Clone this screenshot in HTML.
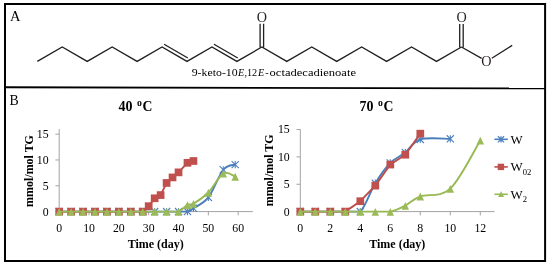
<!DOCTYPE html>
<html><head><meta charset="utf-8"><style>html,body{margin:0;padding:0;background:#fff;width:550px;height:267px;overflow:hidden}svg{display:block;will-change:transform}</style></head><body>
<svg width="550" height="267" viewBox="0 0 550 267">
<rect width="550" height="267" fill="#fff"/>
<rect x="5" y="4" width="540.1" height="257" fill="none" stroke="#000" stroke-width="2"/>
<line x1="5" y1="87.25" x2="545" y2="88.45" stroke="#000" stroke-width="1.8"/>
<text x="0" y="0" transform="translate(10,20.6) scale(0.93,1)" font-family='"Liberation Serif", serif' font-size="15.6" fill="#000">A</text>
<text x="0" y="0" transform="translate(9.6,104.8) scale(0.9,1)" font-family='"Liberation Serif", serif' font-size="15.3" fill="#000">B</text>
<path d="M37.30,61.40 L62.25,47.00 L87.20,61.40 L112.15,47.00 L137.10,61.40 L162.05,47.00 L187.00,61.40 L211.95,47.00 L236.90,61.40 L261.85,47.00 L286.80,61.40 L311.75,47.00 L336.70,61.40 L361.65,47.00 L386.60,61.40 L411.55,47.00 L436.50,61.40 L461.45,47.00 M461.45,47.00 L481.6,58.4 M491.8,58.3 L512.2,45.4 M164.10,44.26 L187.83,57.96 M214.00,44.26 L237.73,57.96 M260.10,47.20 L260.10,23.8 M263.60,47.20 L263.60,23.8 M459.70,47.20 L459.70,23.9 M463.20,47.20 L463.20,23.9" stroke="#231f20" stroke-width="1.3" fill="none" stroke-linejoin="miter"/>
<text x="261.90" y="22.10" font-family='"Liberation Serif", serif' font-size="14.2" text-anchor="middle" fill="#231f20">O</text>
<text x="461.60" y="22.20" font-family='"Liberation Serif", serif' font-size="14.2" text-anchor="middle" fill="#231f20">O</text>
<text x="486.40" y="65.70" font-family='"Liberation Serif", serif' font-size="14.2" text-anchor="middle" fill="#231f20">O</text>
<text x="191.70" y="76.1" font-family='"Liberation Serif", serif' font-size="10.2" fill="#000" textLength="46.00" lengthAdjust="spacingAndGlyphs">9-keto-10</text>
<text x="238.00" y="76.1" font-family='"Liberation Serif", serif' font-size="10.2" fill="#000" font-style="italic">E</text>
<text x="244.40" y="76.1" font-family='"Liberation Serif", serif' font-size="10.2" fill="#000">,12</text>
<text x="257.90" y="76.1" font-family='"Liberation Serif", serif' font-size="10.2" fill="#000" font-style="italic">E</text>
<text x="265.20" y="76.1" font-family='"Liberation Serif", serif' font-size="10.2" fill="#000">-</text>
<text x="269.60" y="76.1" font-family='"Liberation Serif", serif' font-size="10.2" fill="#000" textLength="86.40" lengthAdjust="spacingAndGlyphs">octadecadienoate</text>
<line x1="59.20" y1="129.10" x2="59.20" y2="211.60" stroke="#A3A3A3" stroke-width="1"/>
<line x1="59.20" y1="211.60" x2="252.90" y2="211.60" stroke="#A3A3A3" stroke-width="1"/>
<line x1="55.40" y1="211.60" x2="59.20" y2="211.60" stroke="#A3A3A3" stroke-width="1"/>
<text x="48.60" y="215.50" font-family='"Liberation Serif", serif' font-size="11.8" text-anchor="end" fill="#000">0</text>
<line x1="55.40" y1="185.78" x2="59.20" y2="185.78" stroke="#A3A3A3" stroke-width="1"/>
<text x="48.60" y="189.69" font-family='"Liberation Serif", serif' font-size="11.8" text-anchor="end" fill="#000">5</text>
<line x1="55.40" y1="159.97" x2="59.20" y2="159.97" stroke="#A3A3A3" stroke-width="1"/>
<text x="48.60" y="163.87" font-family='"Liberation Serif", serif' font-size="11.8" text-anchor="end" fill="#000">10</text>
<line x1="55.40" y1="134.15" x2="59.20" y2="134.15" stroke="#A3A3A3" stroke-width="1"/>
<text x="48.60" y="138.05" font-family='"Liberation Serif", serif' font-size="11.8" text-anchor="end" fill="#000">15</text>
<line x1="59.20" y1="211.60" x2="59.20" y2="215.40" stroke="#A3A3A3" stroke-width="1"/>
<line x1="89.03" y1="211.60" x2="89.03" y2="215.40" stroke="#A3A3A3" stroke-width="1"/>
<line x1="118.86" y1="211.60" x2="118.86" y2="215.40" stroke="#A3A3A3" stroke-width="1"/>
<line x1="148.69" y1="211.60" x2="148.69" y2="215.40" stroke="#A3A3A3" stroke-width="1"/>
<line x1="178.52" y1="211.60" x2="178.52" y2="215.40" stroke="#A3A3A3" stroke-width="1"/>
<line x1="208.35" y1="211.60" x2="208.35" y2="215.40" stroke="#A3A3A3" stroke-width="1"/>
<line x1="238.18" y1="211.60" x2="238.18" y2="215.40" stroke="#A3A3A3" stroke-width="1"/>
<text x="59.20" y="231.8" font-family='"Liberation Serif", serif' font-size="11.8" text-anchor="middle" fill="#000">0</text>
<text x="89.03" y="231.8" font-family='"Liberation Serif", serif' font-size="11.8" text-anchor="middle" fill="#000">10</text>
<text x="118.86" y="231.8" font-family='"Liberation Serif", serif' font-size="11.8" text-anchor="middle" fill="#000">20</text>
<text x="148.69" y="231.8" font-family='"Liberation Serif", serif' font-size="11.8" text-anchor="middle" fill="#000">30</text>
<text x="178.52" y="231.8" font-family='"Liberation Serif", serif' font-size="11.8" text-anchor="middle" fill="#000">40</text>
<text x="208.35" y="231.8" font-family='"Liberation Serif", serif' font-size="11.8" text-anchor="middle" fill="#000">50</text>
<text x="238.18" y="231.8" font-family='"Liberation Serif", serif' font-size="11.8" text-anchor="middle" fill="#000">60</text>
<path d="M59.20,211.60 L71.13,211.60 L83.06,211.60 L95.00,211.60 L106.93,211.60 L118.86,211.60 L130.79,211.60 L142.72,211.60 L154.66,211.60 L166.59,211.60 L178.52,211.60 L187.47,211.60 C189.95,211.04 189.95,210.61 193.44,208.24 C196.92,205.88 203.38,203.81 208.35,197.40 C213.32,190.99 218.79,175.24 223.26,169.78 C227.74,164.32 233.21,165.48 235.20,164.62" stroke="#4A7EBB" stroke-width="1.9" fill="none" stroke-linejoin="round"/>
<path d="M55.60,208.00 L62.80,215.20 M55.60,215.20 L62.80,208.00 M59.20,208.00 L59.20,215.20" stroke="#4F81BD" stroke-width="1.10" fill="none"/>
<path d="M67.53,208.00 L74.73,215.20 M67.53,215.20 L74.73,208.00 M71.13,208.00 L71.13,215.20" stroke="#4F81BD" stroke-width="1.10" fill="none"/>
<path d="M79.46,208.00 L86.66,215.20 M79.46,215.20 L86.66,208.00 M83.06,208.00 L83.06,215.20" stroke="#4F81BD" stroke-width="1.10" fill="none"/>
<path d="M91.40,208.00 L98.60,215.20 M91.40,215.20 L98.60,208.00 M95.00,208.00 L95.00,215.20" stroke="#4F81BD" stroke-width="1.10" fill="none"/>
<path d="M103.33,208.00 L110.53,215.20 M103.33,215.20 L110.53,208.00 M106.93,208.00 L106.93,215.20" stroke="#4F81BD" stroke-width="1.10" fill="none"/>
<path d="M115.26,208.00 L122.46,215.20 M115.26,215.20 L122.46,208.00 M118.86,208.00 L118.86,215.20" stroke="#4F81BD" stroke-width="1.10" fill="none"/>
<path d="M127.19,208.00 L134.39,215.20 M127.19,215.20 L134.39,208.00 M130.79,208.00 L130.79,215.20" stroke="#4F81BD" stroke-width="1.10" fill="none"/>
<path d="M139.12,208.00 L146.32,215.20 M139.12,215.20 L146.32,208.00 M142.72,208.00 L142.72,215.20" stroke="#4F81BD" stroke-width="1.10" fill="none"/>
<path d="M151.06,208.00 L158.26,215.20 M151.06,215.20 L158.26,208.00 M154.66,208.00 L154.66,215.20" stroke="#4F81BD" stroke-width="1.10" fill="none"/>
<path d="M162.99,208.00 L170.19,215.20 M162.99,215.20 L170.19,208.00 M166.59,208.00 L166.59,215.20" stroke="#4F81BD" stroke-width="1.10" fill="none"/>
<path d="M174.92,208.00 L182.12,215.20 M174.92,215.20 L182.12,208.00 M178.52,208.00 L178.52,215.20" stroke="#4F81BD" stroke-width="1.10" fill="none"/>
<path d="M183.87,208.00 L191.07,215.20 M183.87,215.20 L191.07,208.00 M187.47,208.00 L187.47,215.20" stroke="#4F81BD" stroke-width="1.10" fill="none"/>
<path d="M189.84,204.64 L197.03,211.84 M189.84,211.84 L197.03,204.64 M193.44,204.64 L193.44,211.84" stroke="#4F81BD" stroke-width="1.10" fill="none"/>
<path d="M204.75,193.80 L211.95,201.00 M204.75,201.00 L211.95,193.80 M208.35,193.80 L208.35,201.00" stroke="#4F81BD" stroke-width="1.10" fill="none"/>
<path d="M219.66,166.18 L226.86,173.38 M219.66,173.38 L226.86,166.18 M223.26,166.18 L223.26,173.38" stroke="#4F81BD" stroke-width="1.10" fill="none"/>
<path d="M231.60,161.02 L238.80,168.22 M231.60,168.22 L238.80,161.02 M235.20,161.02 L235.20,168.22" stroke="#4F81BD" stroke-width="1.10" fill="none"/>
<path d="M59.20,211.60 L71.13,211.60 L83.06,211.60 L95.00,211.60 L106.93,211.60 L118.86,211.60 L130.79,211.60 L142.72,211.60 L148.69,206.18 L154.66,198.28 L160.62,195.08 L166.59,182.95 L172.55,177.42 L178.52,172.36 L187.47,162.81 L193.44,161.00" stroke="#BE4B48" stroke-width="1.9" fill="none" stroke-linejoin="round"/>
<rect x="55.35" y="207.75" width="7.70" height="7.70" fill="#C0504D"/>
<rect x="67.28" y="207.75" width="7.70" height="7.70" fill="#C0504D"/>
<rect x="79.21" y="207.75" width="7.70" height="7.70" fill="#C0504D"/>
<rect x="91.15" y="207.75" width="7.70" height="7.70" fill="#C0504D"/>
<rect x="103.08" y="207.75" width="7.70" height="7.70" fill="#C0504D"/>
<rect x="115.01" y="207.75" width="7.70" height="7.70" fill="#C0504D"/>
<rect x="126.94" y="207.75" width="7.70" height="7.70" fill="#C0504D"/>
<rect x="138.87" y="207.75" width="7.70" height="7.70" fill="#C0504D"/>
<rect x="144.84" y="202.33" width="7.70" height="7.70" fill="#C0504D"/>
<rect x="150.81" y="194.43" width="7.70" height="7.70" fill="#C0504D"/>
<rect x="156.77" y="191.23" width="7.70" height="7.70" fill="#C0504D"/>
<rect x="162.74" y="179.10" width="7.70" height="7.70" fill="#C0504D"/>
<rect x="168.70" y="173.57" width="7.70" height="7.70" fill="#C0504D"/>
<rect x="174.67" y="168.51" width="7.70" height="7.70" fill="#C0504D"/>
<rect x="183.62" y="158.96" width="7.70" height="7.70" fill="#C0504D"/>
<rect x="189.59" y="157.15" width="7.70" height="7.70" fill="#C0504D"/>
<path d="M59.20,211.60 L71.13,211.60 L83.06,211.60 L95.00,211.60 L106.93,211.60 L118.86,211.60 L130.79,211.60 L142.72,211.60 L154.66,211.60 L166.59,211.60 L178.52,211.60 C182.00,210.48 184.98,206.22 187.47,204.89 C189.95,203.55 189.95,205.66 193.44,203.60 C196.92,201.53 203.38,197.53 208.35,192.50 C213.32,187.46 218.79,176.06 223.26,173.39 C227.74,170.73 233.21,175.98 235.20,176.49" stroke="#98B954" stroke-width="1.9" fill="none" stroke-linejoin="round"/>
<path d="M59.20,207.93 L62.95,215.73 L55.45,215.73 Z" fill="#9BBB59"/>
<path d="M71.13,207.93 L74.88,215.73 L67.38,215.73 Z" fill="#9BBB59"/>
<path d="M83.06,207.93 L86.81,215.73 L79.31,215.73 Z" fill="#9BBB59"/>
<path d="M95.00,207.93 L98.75,215.73 L91.25,215.73 Z" fill="#9BBB59"/>
<path d="M106.93,207.93 L110.68,215.73 L103.18,215.73 Z" fill="#9BBB59"/>
<path d="M118.86,207.93 L122.61,215.73 L115.11,215.73 Z" fill="#9BBB59"/>
<path d="M130.79,207.93 L134.54,215.73 L127.04,215.73 Z" fill="#9BBB59"/>
<path d="M142.72,207.93 L146.47,215.73 L138.97,215.73 Z" fill="#9BBB59"/>
<path d="M154.66,207.93 L158.41,215.73 L150.91,215.73 Z" fill="#9BBB59"/>
<path d="M166.59,207.93 L170.34,215.73 L162.84,215.73 Z" fill="#9BBB59"/>
<path d="M178.52,207.93 L182.27,215.73 L174.77,215.73 Z" fill="#9BBB59"/>
<path d="M187.47,201.22 L191.22,209.02 L183.72,209.02 Z" fill="#9BBB59"/>
<path d="M193.44,199.93 L197.19,207.73 L189.69,207.73 Z" fill="#9BBB59"/>
<path d="M208.35,188.83 L212.10,196.63 L204.60,196.63 Z" fill="#9BBB59"/>
<path d="M223.26,169.73 L227.01,177.53 L219.51,177.53 Z" fill="#9BBB59"/>
<path d="M235.20,172.83 L238.95,180.63 L231.45,180.63 Z" fill="#9BBB59"/>
<text x="125.60" y="110.8" font-family='"Liberation Serif", serif' font-size="15.5" font-weight="bold" text-anchor="middle" fill="#000" textLength="14" lengthAdjust="spacingAndGlyphs">40</text>
<text x="139.40" y="106.1" font-family='"Liberation Serif", serif' font-size="9.8" font-weight="bold" text-anchor="middle" fill="#000">o</text>
<text x="142.60" y="110.8" font-family='"Liberation Serif", serif' font-size="15.5" font-weight="bold" fill="#000" textLength="9.9" lengthAdjust="spacingAndGlyphs">C</text>
<line x1="300.30" y1="129.30" x2="300.30" y2="211.60" stroke="#A3A3A3" stroke-width="1"/>
<line x1="300.30" y1="211.60" x2="494.50" y2="211.60" stroke="#A3A3A3" stroke-width="1"/>
<line x1="296.50" y1="211.60" x2="300.30" y2="211.60" stroke="#A3A3A3" stroke-width="1"/>
<text x="289.70" y="215.50" font-family='"Liberation Serif", serif' font-size="11.8" text-anchor="end" fill="#000">0</text>
<line x1="296.50" y1="184.25" x2="300.30" y2="184.25" stroke="#A3A3A3" stroke-width="1"/>
<text x="289.70" y="188.15" font-family='"Liberation Serif", serif' font-size="11.8" text-anchor="end" fill="#000">5</text>
<line x1="296.50" y1="156.90" x2="300.30" y2="156.90" stroke="#A3A3A3" stroke-width="1"/>
<text x="289.70" y="160.80" font-family='"Liberation Serif", serif' font-size="11.8" text-anchor="end" fill="#000">10</text>
<line x1="296.50" y1="129.55" x2="300.30" y2="129.55" stroke="#A3A3A3" stroke-width="1"/>
<text x="289.70" y="133.45" font-family='"Liberation Serif", serif' font-size="11.8" text-anchor="end" fill="#000">15</text>
<line x1="300.30" y1="211.60" x2="300.30" y2="215.40" stroke="#A3A3A3" stroke-width="1"/>
<line x1="330.30" y1="211.60" x2="330.30" y2="215.40" stroke="#A3A3A3" stroke-width="1"/>
<line x1="360.30" y1="211.60" x2="360.30" y2="215.40" stroke="#A3A3A3" stroke-width="1"/>
<line x1="390.30" y1="211.60" x2="390.30" y2="215.40" stroke="#A3A3A3" stroke-width="1"/>
<line x1="420.30" y1="211.60" x2="420.30" y2="215.40" stroke="#A3A3A3" stroke-width="1"/>
<line x1="450.30" y1="211.60" x2="450.30" y2="215.40" stroke="#A3A3A3" stroke-width="1"/>
<line x1="480.30" y1="211.60" x2="480.30" y2="215.40" stroke="#A3A3A3" stroke-width="1"/>
<text x="300.30" y="231.8" font-family='"Liberation Serif", serif' font-size="11.8" text-anchor="middle" fill="#000">0</text>
<text x="330.30" y="231.8" font-family='"Liberation Serif", serif' font-size="11.8" text-anchor="middle" fill="#000">2</text>
<text x="360.30" y="231.8" font-family='"Liberation Serif", serif' font-size="11.8" text-anchor="middle" fill="#000">4</text>
<text x="390.30" y="231.8" font-family='"Liberation Serif", serif' font-size="11.8" text-anchor="middle" fill="#000">6</text>
<text x="420.30" y="231.8" font-family='"Liberation Serif", serif' font-size="11.8" text-anchor="middle" fill="#000">8</text>
<text x="450.30" y="231.8" font-family='"Liberation Serif", serif' font-size="11.8" text-anchor="middle" fill="#000">10</text>
<text x="480.30" y="231.8" font-family='"Liberation Serif", serif' font-size="11.8" text-anchor="middle" fill="#000">12</text>
<path d="M300.30,211.60 L315.30,211.60 L330.30,211.60 L345.30,211.60 L360.30,211.60 C365.30,206.86 370.30,191.27 375.30,183.16 C380.30,175.04 385.30,168.02 390.30,162.92 C395.30,157.81 400.30,156.44 405.30,152.52 C410.30,148.60 412.80,141.68 420.30,139.40 C427.80,137.12 445.30,138.94 450.30,138.85" stroke="#4A7EBB" stroke-width="1.9" fill="none" stroke-linejoin="round"/>
<path d="M296.70,208.00 L303.90,215.20 M296.70,215.20 L303.90,208.00 M300.30,208.00 L300.30,215.20" stroke="#4F81BD" stroke-width="1.10" fill="none"/>
<path d="M311.70,208.00 L318.90,215.20 M311.70,215.20 L318.90,208.00 M315.30,208.00 L315.30,215.20" stroke="#4F81BD" stroke-width="1.10" fill="none"/>
<path d="M326.70,208.00 L333.90,215.20 M326.70,215.20 L333.90,208.00 M330.30,208.00 L330.30,215.20" stroke="#4F81BD" stroke-width="1.10" fill="none"/>
<path d="M341.70,208.00 L348.90,215.20 M341.70,215.20 L348.90,208.00 M345.30,208.00 L345.30,215.20" stroke="#4F81BD" stroke-width="1.10" fill="none"/>
<path d="M356.70,208.00 L363.90,215.20 M356.70,215.20 L363.90,208.00 M360.30,208.00 L360.30,215.20" stroke="#4F81BD" stroke-width="1.10" fill="none"/>
<path d="M371.70,179.56 L378.90,186.76 M371.70,186.76 L378.90,179.56 M375.30,179.56 L375.30,186.76" stroke="#4F81BD" stroke-width="1.10" fill="none"/>
<path d="M386.70,159.32 L393.90,166.52 M386.70,166.52 L393.90,159.32 M390.30,159.32 L390.30,166.52" stroke="#4F81BD" stroke-width="1.10" fill="none"/>
<path d="M401.70,148.92 L408.90,156.12 M401.70,156.12 L408.90,148.92 M405.30,148.92 L405.30,156.12" stroke="#4F81BD" stroke-width="1.10" fill="none"/>
<path d="M416.70,135.80 L423.90,143.00 M416.70,143.00 L423.90,135.80 M420.30,135.80 L420.30,143.00" stroke="#4F81BD" stroke-width="1.10" fill="none"/>
<path d="M446.70,135.25 L453.90,142.45 M446.70,142.45 L453.90,135.25 M450.30,135.25 L450.30,142.45" stroke="#4F81BD" stroke-width="1.10" fill="none"/>
<path d="M300.30,211.60 L315.30,211.60 L330.30,211.60 L345.30,211.60 L360.30,201.21 L375.30,185.62 L390.30,164.56 L405.30,154.71 L420.30,133.65" stroke="#BE4B48" stroke-width="1.9" fill="none" stroke-linejoin="round"/>
<rect x="296.45" y="207.75" width="7.70" height="7.70" fill="#C0504D"/>
<rect x="311.45" y="207.75" width="7.70" height="7.70" fill="#C0504D"/>
<rect x="326.45" y="207.75" width="7.70" height="7.70" fill="#C0504D"/>
<rect x="341.45" y="207.75" width="7.70" height="7.70" fill="#C0504D"/>
<rect x="356.45" y="197.36" width="7.70" height="7.70" fill="#C0504D"/>
<rect x="371.45" y="181.77" width="7.70" height="7.70" fill="#C0504D"/>
<rect x="386.45" y="160.71" width="7.70" height="7.70" fill="#C0504D"/>
<rect x="401.45" y="150.86" width="7.70" height="7.70" fill="#C0504D"/>
<rect x="416.45" y="129.80" width="7.70" height="7.70" fill="#C0504D"/>
<path d="M300.30,211.60 L315.30,211.60 L330.30,211.60 L345.30,211.60 L360.30,211.60 L375.30,211.60 L390.30,211.60 C395.30,210.60 400.30,208.14 405.30,205.58 C410.30,203.03 412.80,199.11 420.30,196.28 C427.80,193.46 440.30,197.93 450.30,188.63 C460.30,179.33 475.30,148.51 480.30,140.49" stroke="#98B954" stroke-width="1.9" fill="none" stroke-linejoin="round"/>
<path d="M300.30,207.93 L304.05,215.73 L296.55,215.73 Z" fill="#9BBB59"/>
<path d="M315.30,207.93 L319.05,215.73 L311.55,215.73 Z" fill="#9BBB59"/>
<path d="M330.30,207.93 L334.05,215.73 L326.55,215.73 Z" fill="#9BBB59"/>
<path d="M345.30,207.93 L349.05,215.73 L341.55,215.73 Z" fill="#9BBB59"/>
<path d="M360.30,207.93 L364.05,215.73 L356.55,215.73 Z" fill="#9BBB59"/>
<path d="M375.30,207.93 L379.05,215.73 L371.55,215.73 Z" fill="#9BBB59"/>
<path d="M390.30,207.93 L394.05,215.73 L386.55,215.73 Z" fill="#9BBB59"/>
<path d="M405.30,201.92 L409.05,209.72 L401.55,209.72 Z" fill="#9BBB59"/>
<path d="M420.30,192.62 L424.05,200.42 L416.55,200.42 Z" fill="#9BBB59"/>
<path d="M450.30,184.96 L454.05,192.76 L446.55,192.76 Z" fill="#9BBB59"/>
<path d="M480.30,136.82 L484.05,144.62 L476.55,144.62 Z" fill="#9BBB59"/>
<text x="366.60" y="110.8" font-family='"Liberation Serif", serif' font-size="15.5" font-weight="bold" text-anchor="middle" fill="#000" textLength="14" lengthAdjust="spacingAndGlyphs">70</text>
<text x="380.40" y="106.1" font-family='"Liberation Serif", serif' font-size="9.8" font-weight="bold" text-anchor="middle" fill="#000">o</text>
<text x="383.60" y="110.8" font-family='"Liberation Serif", serif' font-size="15.5" font-weight="bold" fill="#000" textLength="9.9" lengthAdjust="spacingAndGlyphs">C</text>
<text x="155.70" y="248.2" font-family='"Liberation Serif", serif' font-size="12" font-weight="bold" text-anchor="middle" fill="#000">Time (day)</text>
<text x="397.30" y="248.2" font-family='"Liberation Serif", serif' font-size="12" font-weight="bold" text-anchor="middle" fill="#000">Time (day)</text>
<text transform="translate(32.50,171.00) rotate(-90)" x="0" y="0" font-family='"Liberation Serif", serif' font-size="12.8" font-weight="bold" text-anchor="middle" fill="#000" textLength="71.8" lengthAdjust="spacingAndGlyphs">mmol/mol TG</text>
<text transform="translate(272.60,170.40) rotate(-90)" x="0" y="0" font-family='"Liberation Serif", serif' font-size="12.8" font-weight="bold" text-anchor="middle" fill="#000" textLength="71.8" lengthAdjust="spacingAndGlyphs">mmol/mol TG</text>
<line x1="494.4" y1="139.30" x2="507.8" y2="139.30" stroke="#4A7EBB" stroke-width="1.6"/>
<path d="M497.90,136.20 L504.10,142.40 M497.90,142.40 L504.10,136.20 M501.00,136.20 L501.00,142.40" stroke="#4F81BD" stroke-width="1.25" fill="none"/>
<text x="510.6" y="143.60" font-family='"Liberation Serif", serif' font-size="12.9" fill="#000">W</text>
<line x1="494.4" y1="166.90" x2="507.8" y2="166.90" stroke="#BE4B48" stroke-width="1.6"/>
<rect x="497.70" y="163.70" width="6.40" height="6.40" fill="#C0504D"/>
<text x="510.6" y="171.20" font-family='"Liberation Serif", serif' font-size="12.9" fill="#000">W<tspan font-size="8.6" dy="3.6">02</tspan></text>
<line x1="494.4" y1="194.30" x2="507.8" y2="194.30" stroke="#98B954" stroke-width="1.6"/>
<path d="M501.1,191.30 L504.1,197.10 L498.1,197.10 Z" fill="#9BBB59"/>
<text x="510.6" y="198.60" font-family='"Liberation Serif", serif' font-size="12.9" fill="#000">W<tspan font-size="8.6" dy="3.6">2</tspan></text>
</svg>
</body></html>
